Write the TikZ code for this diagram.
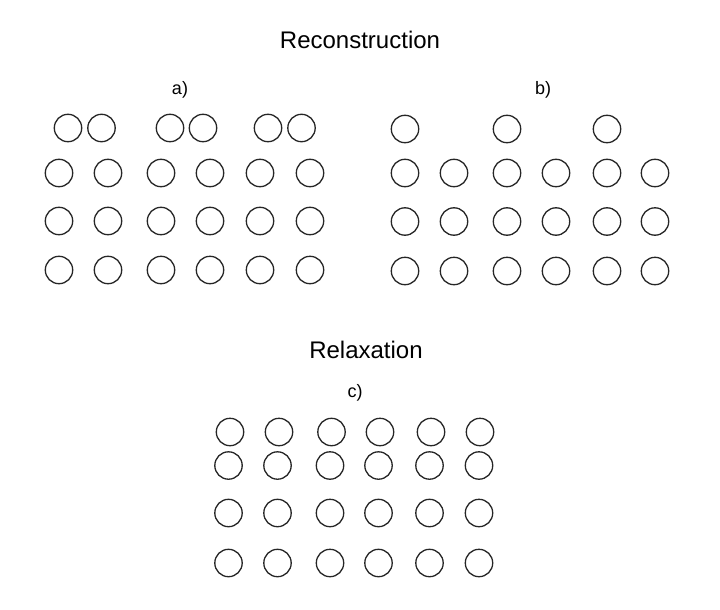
\documentclass[tikz,border=0pt]{standalone}
\usepackage{fontspec}
\setmainfont{Liberation Sans}
\begin{document}
\begin{tikzpicture}[x=1pt,y=-1pt,
  atom/.style={circle,draw=black!85,line width=1.3pt,minimum size=27.4pt,inner sep=0pt},
  title/.style={font=\fontsize{24}{28}\selectfont},
  panel/.style={font=\fontsize{18}{22}\selectfont}]
\useasboundingbox (0,0) rectangle (720,610);
% titles
\node[title] (t1) at (360,40) {Reconstruction};
\node[title] (t2) at (366,350) {Relaxation};
\node[panel] (la) at (180,90) {a)};
\node[panel] (lb) at (543,90) {b)};
\node[panel] (lc) at (355,393) {c)};
% panel a
\foreach \x [count=\i] in {68,101.5,170,203,268,301.5}
  \node[atom] (a0\i) at (\x,128) {};
\foreach \y [count=\j] in {173,221,270}
  \foreach \x [count=\i] in {59,108,161,210,260,310}
    \node[atom] (a\j\i) at (\x,\y) {};
% panel b
\foreach \x [count=\i] in {405,507,607}
  \node[atom] (b0\i) at (\x,129) {};
\foreach \y [count=\j] in {173,221.5,271}
  \foreach \x [count=\i] in {405,454,507,556,607,655}
    \node[atom] (b\j\i) at (\x,\y) {};
% panel c
\foreach \x [count=\i] in {230,279,331.5,380,431,480}
  \node[atom] (c0\i) at (\x,432) {};
\foreach \y [count=\j] in {465.5,513,563}
  \foreach \x [count=\i] in {228.5,277.5,330,378.5,429.5,479}
    \node[atom] (c\j\i) at (\x,\y) {};
\end{tikzpicture}
\end{document}
